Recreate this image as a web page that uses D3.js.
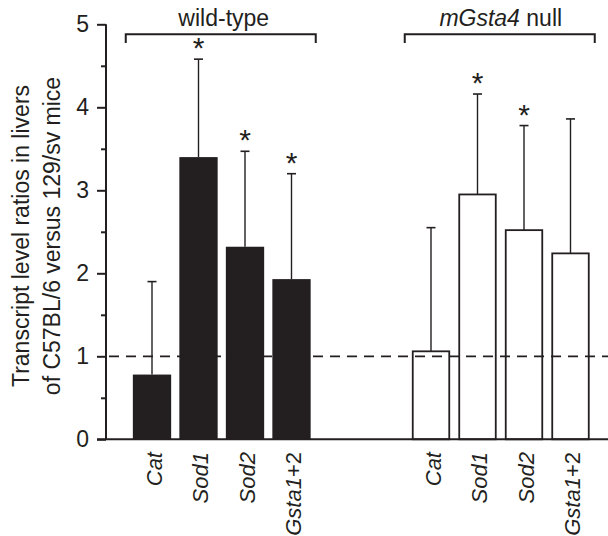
<!DOCTYPE html>
<html>
<head>
<meta charset="utf-8">
<script src="https://cdn.jsdelivr.net/npm/d3@7"></script>
<style>
  html, body { margin: 0; padding: 0; background: #fff; }
  svg { display: block; font-family: "Liberation Sans", Arial, sans-serif; }
</style>
</head>
<body>
<div id="chart"></div>
<script>
// ---- data ----
const groups = ["wild-type", "mGsta4 null"];
const genes = ["Cat", "Sod1", "Sod2", "Gsta1+2"];
const wildTypeMeans = [0.78, 3.40, 2.32, 1.93];
const wildTypeUpper = [1.90, 4.58, 3.47, 3.20];
const nullMeans = [1.06, 2.95, 2.52, 2.24];
const nullUpper = [2.55, 4.16, 3.78, 3.86];
const wildTypeSig = [false, true, true, true];
const nullSig = [false, true, true, false];
const yTicks = [0, 1, 2, 3, 4, 5];
const yMinorTicks = [0.5, 1.5, 2.5, 3.5, 4.5];
const referenceLevel = 1;

const seriesByGroup = {
  "wild-type": { means: wildTypeMeans, upper: wildTypeUpper, sig: wildTypeSig },
  "mGsta4 null": { means: nullMeans, upper: nullUpper, sig: nullSig }
};

const W = 608, H = 536;
const ink = "#231f20";

const svg = d3.select("#chart").append("svg")
  .attr("width", W).attr("height", H);

const y = d3.scaleLinear().domain([0, 5]).range([439.3, 24.3]);

const xGroup = d3.scaleBand().domain(groups)
  .range([128.75, 593.75]).paddingInner(1 / 3).paddingOuter(0);
const xGene = d3.scaleBand().domain(genes)
  .range([0, xGroup.bandwidth()]).paddingInner(0.176).paddingOuter(0.088);

// bars
groups.forEach((g, gi) => {
  const s = seriesByGroup[g];
  const data = genes.map((gene, i) => ({ gene, mean: s.means[i], upper: s.upper[i], sig: s.sig[i] }));
  const gx = xGroup(g);
  const layer = svg.append("g").attr("transform", `translate(${gx},0)`);

  // error bars
  layer.selectAll("line.err").data(data).enter().append("line")
    .attr("x1", d => xGene(d.gene) + xGene.bandwidth() / 2)
    .attr("x2", d => xGene(d.gene) + xGene.bandwidth() / 2)
    .attr("y1", d => y(d.mean)).attr("y2", d => y(d.upper))
    .attr("stroke", ink).attr("stroke-width", 1.4);
  layer.selectAll("line.cap").data(data).enter().append("line")
    .attr("x1", d => xGene(d.gene) + xGene.bandwidth() / 2 - 4.5)
    .attr("x2", d => xGene(d.gene) + xGene.bandwidth() / 2 + 4.5)
    .attr("y1", d => y(d.upper)).attr("y2", d => y(d.upper))
    .attr("stroke", ink).attr("stroke-width", 1.6);

  layer.selectAll("rect").data(data).enter().append("rect")
    .attr("x", d => xGene(d.gene) + (gi === 1 ? 0.9 : 0))
    .attr("width", xGene.bandwidth() - (gi === 1 ? 1.8 : 0))
    .attr("y", d => y(d.mean))
    .attr("height", d => y(0) - y(d.mean))
    .attr("fill", gi === 0 ? ink : "#fff")
    .attr("stroke", ink)
    .attr("stroke-width", gi === 0 ? 0 : 1.8);

  // significance asterisks
  layer.selectAll("text.sig").data(data.filter(d => d.sig)).enter().append("text")
    .attr("x", d => xGene(d.gene) + xGene.bandwidth() / 2)
    .attr("y", d => y(d.upper) - 1)
    .attr("text-anchor", "middle")
    .attr("font-size", 30).attr("fill", ink)
    .text("*");

  // bracket
  const bx0 = gx - 3, bx1 = gx + xGroup.bandwidth() + 1;
  svg.append("path")
    .attr("d", `M${bx0},43 V34.3 H${bx1} V43`)
    .attr("fill", "none").attr("stroke", ink).attr("stroke-width", 2);

  // group label
  const lab = svg.append("text")
    .attr("x", (bx0 + bx1) / 2 + (gi === 0 ? 3 : 1))
    .attr("y", 26)
    .attr("text-anchor", "middle")
    .attr("font-size", 23).attr("fill", ink);
  if (g === "mGsta4 null") {
    lab.append("tspan").attr("font-style", "italic").text("mGsta4");
    lab.append("tspan").text(" null");
  } else {
    lab.text(g);
  }

  // x labels
  data.forEach(d => {
    const cx = gx + xGene(d.gene) + xGene.bandwidth() / 2;
    const t = svg.append("text")
      .attr("transform", `translate(${cx},452) rotate(-90)`)
      .attr("text-anchor", "end")
      .attr("dy", "0.45em")
      .attr("font-size", 22).attr("fill", ink);
    const m = d.gene.match(/^([A-Za-z]+\d?)(.*)$/);
    t.append("tspan").attr("font-style", "italic").text(m[1]);
    if (m[2]) t.append("tspan").text(m[2]);
  });
});

// reference dashed line
svg.append("line")
  .attr("x1", 106).attr("x2", W)
  .attr("y1", y(referenceLevel)).attr("y2", y(referenceLevel))
  .attr("stroke", ink).attr("stroke-width", 1.8)
  .attr("stroke-dasharray", "10,7").attr("stroke-dashoffset", -3);

// y axis
const yAxis = d3.axisLeft(y).tickValues(yTicks).tickSize(9).tickPadding(8).tickFormat(d3.format("d"));
const ya = svg.append("g").attr("transform", "translate(106,0)").call(yAxis);
ya.select(".domain").attr("d", `M0,${y(0)}V${y(5)}`).attr("stroke", ink).attr("stroke-width", 2);
ya.selectAll(".tick line").attr("stroke", ink).attr("stroke-width", 2);
ya.selectAll(".tick text").attr("font-size", 23).attr("fill", ink)
  .attr("font-family", "Liberation Sans, Arial, sans-serif");
const yMinor = d3.axisLeft(y).tickValues(yMinorTicks).tickSize(5).tickFormat("");
const ym = svg.append("g").attr("transform", "translate(106,0)").call(yMinor);
ym.select(".domain").remove();
ym.selectAll(".tick line").attr("stroke", ink).attr("stroke-width", 2);

// x axis baseline
svg.append("line")
  .attr("x1", 97).attr("x2", W)
  .attr("y1", y(0)).attr("y2", y(0))
  .attr("stroke", ink).attr("stroke-width", 2);

// y title
const yt = svg.append("text")
  .attr("transform", `translate(29,236) rotate(-90)`)
  .attr("text-anchor", "middle")
  .attr("font-size", 23).attr("fill", ink);
yt.append("tspan").attr("x", 0).attr("dy", 0).text("Transcript level ratios in livers");
yt.append("tspan").attr("x", 0).attr("dy", 31).text("of C57BL/6 versus 129/sv mice");
</script>
</body>
</html>
